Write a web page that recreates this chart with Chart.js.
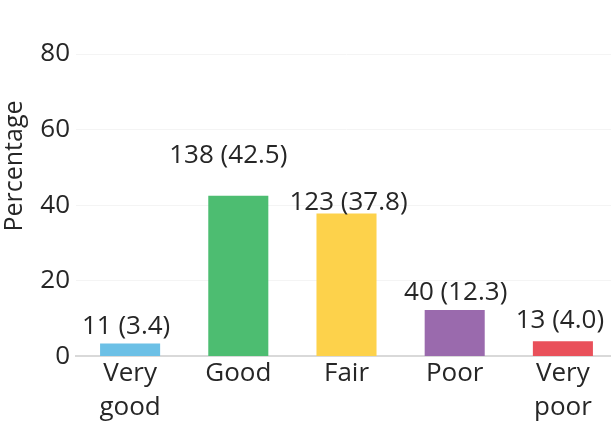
<!DOCTYPE html>
<html>
<head>
<meta charset="utf-8">
<script src="https://cdn.jsdelivr.net/npm/chart.js@4"></script>
<style>
  html, body { margin: 0; padding: 0; background: #fff; overflow: hidden; }
  #wrap { width: 622px; height: 424px; }
</style>
</head>
<body>
<div id="wrap"><canvas id="healthChart"></canvas></div>
<script>
const categories = [['Very', 'good'], 'Good', 'Fair', 'Poor', ['Very', 'poor']];
const counts = [11, 138, 123, 40, 13];
const percents = [3.4, 42.5, 37.8, 12.3, 4.0];
const yTicks = [0, 20, 40, 60, 80];
const barColors = ['#6cc0e6', '#4dbd71', '#fdd24b', '#9a6aad', '#e9505a'];

const FONT = '"Open Sans", sans-serif';
const TEXT = '#262626';

// count (percent) above each bar
const barLabels = {
    id: 'barLabels',
    afterDatasetsDraw(chart, args, opts) {
        const ctx = chart.ctx;
        const meta = chart.getDatasetMeta(0);
        ctx.save();
        ctx.font = '26px ' + FONT;
        ctx.fillStyle = TEXT;
        ctx.textAlign = 'center';
        ctx.textBaseline = 'alphabetic';
        meta.data.forEach((bar, i) => {
            const off = opts.offsets[i] || [0, 10];
            const txt = counts[i] + ' (' + percents[i].toFixed(1) + ')';
            ctx.fillText(txt, bar.x + off[0], bar.y - off[1]);
        });
        ctx.restore();
    }
};

// y axis title, placed like the original (not centred on the axis)
const yTitle = {
    id: 'yTitle',
    afterDraw(chart, args, opts) {
        const ctx = chart.ctx;
        ctx.save();
        ctx.translate(opts.x, opts.y);
        ctx.rotate(-Math.PI / 2);
        ctx.font = '25px ' + FONT;
        ctx.fillStyle = TEXT;
        ctx.textAlign = 'center';
        ctx.textBaseline = 'middle';
        ctx.fillText('Percentage', 0, 0);
        ctx.restore();
    }
};

new Chart(document.getElementById('healthChart'), {
    type: 'bar',
    data: {
        labels: categories,
        datasets: [{
            data: percents,
            backgroundColor: barColors,
            borderWidth: 0,
            categoryPercentage: 1,
            barPercentage: 0.555
        }]
    },
    options: {
        responsive: true,
        maintainAspectRatio: false,
        animation: false,
        layout: { padding: { top: 54, right: 5, left: 0, bottom: 0 } },
        plugins: {
            legend: { display: false },
            tooltip: { enabled: false },
            barLabels: { offsets: [[-4, 10], [-10, 33], [2, 4], [1, 10], [-3, 13]] },
            yTitle: { x: 15, y: 166 }
        },
        scales: {
            x: {
                grid: { display: false, drawTicks: false },
                border: { color: '#d9d9d9', width: 2 },
                ticks: {
                    color: TEXT,
                    padding: 0,
                    font: { family: FONT, size: 26, lineHeight: 1.3 },
                    maxRotation: 0,
                    autoSkip: false
                }
            },
            y: {
                min: 0,
                max: 80,
                afterBuildTicks(scale) { scale.ticks = yTicks.map(v => ({ value: v })); },
                afterFit(scale) { scale.width = 76; },
                grid: { color: '#f4f4f4', lineWidth: 1, drawTicks: false },
                border: { display: false },
                ticks: {
                    color: TEXT,
                    padding: 6,
                    font: { family: FONT, size: 26 }
                }
            }
        }
    },
    plugins: [barLabels, yTitle]
});
</script>
</body>
</html>
